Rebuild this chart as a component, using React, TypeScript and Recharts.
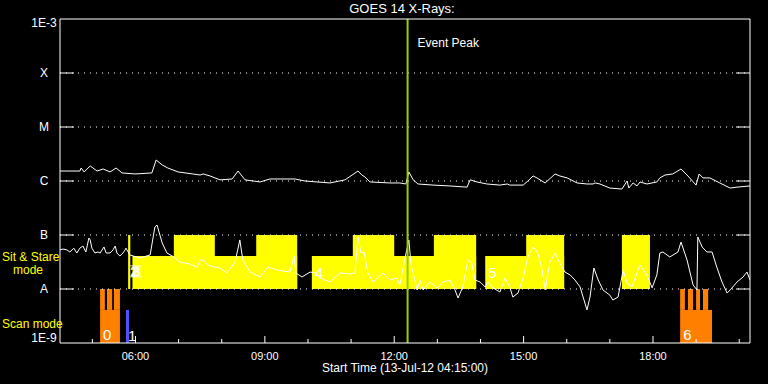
import React from 'react'
import { LineChart, Line, XAxis, YAxis, ReferenceArea, ReferenceLine } from 'recharts'

const FONT = '"Liberation Sans", Arial, sans-serif'

// time axis in decimal hours (UT), start 04:15
const timeDomain = [4.25, 20.25]
const hourTicks = [5, 6, 7, 8, 9, 10, 11, 12, 13, 14, 15, 16, 17, 18, 19, 20]
const labelledHours = [6, 9, 12, 15, 18]

// flux axis (W/m^2) with GOES class letters
const fluxTicks = [1e-9, 1e-8, 1e-7, 1e-6, 1e-5, 1e-4, 1e-3]
const fluxLabels = ['1E-9', 'A', 'B', 'C', 'M', 'X', '1E-3']
const gridLevels = [1e-8, 1e-7, 1e-6, 1e-5, 1e-4]

// 1-8 A channel [hour, flux]
const longChannel: [number, number][] = [
  [4.25, 1.53e-6], [4.48, 1.53e-6], [4.71, 1.53e-6], [4.74, 1.74e-6], [4.81, 1.47e-6],
  [4.95, 1.9e-6], [5.11, 1.53e-6], [5.25, 1.67e-6], [5.41, 1.47e-6], [5.55, 1.74e-6],
  [5.69, 1.41e-6], [5.99, 1.35e-6], [6.38, 1.41e-6], [6.48, 2.45e-6], [6.62, 1.98e-6],
  [6.75, 1.74e-6], [6.99, 1.47e-6], [7.33, 1.35e-6], [7.5, 1.29e-6], [7.57, 1.35e-6],
  [7.73, 1.24e-6], [7.96, 1.05e-6], [8.24, 1.09e-6], [8.38, 1.53e-6], [8.54, 1.05e-6],
  [8.89, 9.6e-7], [9.12, 1.09e-6], [9.7, 1.09e-6], [9.93, 1.0e-6], [10.51, 9.2e-7],
  [10.86, 1.05e-6], [11.16, 1.53e-6], [11.25, 1.29e-6], [11.32, 1.19e-6], [11.44, 9.6e-7],
  [11.9, 9.2e-7], [12.13, 9.2e-7], [12.27, 8.8e-7], [12.34, 1.47e-6], [12.44, 1.05e-6],
  [12.55, 8.8e-7], [12.9, 8.4e-7], [13.29, 8.1e-7], [13.69, 7.7e-7], [13.76, 1.05e-6],
  [13.92, 9.6e-7], [14.15, 8.8e-7], [14.45, 8.4e-7], [14.62, 8.8e-7], [14.68, 8.4e-7],
  [14.99, 8.4e-7], [15.1, 1.0e-6], [15.22, 1.24e-6], [15.31, 1.14e-6], [15.5, 9.2e-7],
  [15.73, 1.35e-6], [15.84, 1.24e-6], [16.01, 1.14e-6], [16.24, 9.2e-7], [16.47, 8.8e-7],
  [16.61, 8.8e-7], [16.66, 9.2e-7], [16.77, 8.8e-7], [17.0, 7.4e-7], [17.28, 7.1e-7],
  [17.4, 1.0e-6], [17.44, 7.4e-7], [17.54, 9.2e-7], [17.63, 8.1e-7], [17.7, 9.6e-7],
  [17.86, 8.8e-7], [18.09, 9.6e-7], [18.16, 1.14e-6], [18.28, 1.29e-6], [18.46, 1.35e-6],
  [18.65, 1.67e-6], [18.79, 1.29e-6], [19.0, 8.4e-7], [19.07, 1.35e-6], [19.16, 1.14e-6],
  [19.32, 1.14e-6], [19.55, 9.2e-7], [19.79, 7.4e-7], [19.95, 7.7e-7], [20.25, 8.1e-7],
]

// 0.5-4 A channel [hour, flux]
const shortChannel: [number, number][] = [
  [4.25, 5.3e-8], [4.32, 5.5e-8], [4.41, 5.3e-8], [4.48, 4.85e-8], [4.57, 5.7e-8],
  [4.64, 4.64e-8], [4.71, 5.7e-8], [4.78, 6.25e-8], [4.85, 4.85e-8], [4.92, 8.8e-8],
  [4.95, 8.1e-8], [4.99, 5.7e-8], [5.06, 4.64e-8], [5.13, 4.85e-8], [5.18, 4.64e-8],
  [5.27, 6.0e-8], [5.32, 4.64e-8], [5.41, 4.64e-8], [5.48, 5.3e-8], [5.53, 6.25e-8],
  [5.57, 4.64e-8], [5.64, 4.08e-8], [5.71, 4.64e-8], [5.76, 5.3e-8], [5.78, 5.7e-8],
  [5.87, 4.27e-8], [6.1, 3.75e-8], [6.34, 4.27e-8], [6.45, 1.41e-7], [6.5, 1.53e-7],
  [6.62, 7.1e-8], [6.73, 4.64e-8], [6.89, 3.92e-8], [7.03, 3.16e-8], [7.26, 2.9e-8],
  [7.43, 2.55e-8], [7.5, 3.44e-8], [7.57, 3.44e-8], [7.68, 2.78e-8], [7.84, 2.55e-8],
  [7.96, 2.45e-8], [8.12, 1.98e-8], [8.31, 3.16e-8], [8.42, 8.1e-8], [8.49, 3.44e-8],
  [8.66, 2.06e-8], [8.89, 1.67e-8], [9.07, 2.55e-8], [9.28, 2.25e-8], [9.58, 2.06e-8],
  [9.68, 4.08e-8], [9.72, 1.98e-8], [9.86, 1.67e-8], [10.05, 2.06e-8], [10.19, 1.98e-8],
  [10.28, 1.6e-8], [10.51, 1.35e-8], [10.74, 1.98e-8], [10.97, 1.9e-8], [11.09, 1.98e-8],
  [11.16, 9.2e-8], [11.23, 4.64e-8], [11.3, 4.85e-8], [11.39, 1.98e-8], [11.51, 1.35e-8],
  [11.74, 1.98e-8], [11.9, 1.47e-8], [12.06, 1.6e-8], [12.13, 1.19e-8], [12.27, 4.45e-8],
  [12.34, 8.1e-8], [12.39, 2.78e-8], [12.44, 1.98e-8], [12.53, 9.6e-9], [12.6, 1.47e-8],
  [12.67, 9.6e-9], [12.83, 1.35e-8], [12.99, 1.05e-8], [13.13, 1.35e-8], [13.29, 1.47e-8],
  [13.41, 9.6e-9], [13.48, 6.8e-9], [13.59, 1.09e-8], [13.71, 3.44e-8], [13.8, 3.03e-8],
  [13.87, 1.47e-8], [13.99, 1.35e-8], [14.11, 1.09e-8], [14.17, 1.35e-8], [14.29, 1.05e-8],
  [14.45, 8.8e-9], [14.57, 1.6e-8], [14.68, 1.09e-8], [14.75, 7.1e-9], [14.87, 8.4e-9],
  [14.99, 1.6e-8], [15.1, 3.92e-8], [15.22, 6.0e-8], [15.33, 4.64e-8], [15.43, 2.25e-8],
  [15.5, 9.6e-9], [15.61, 3.16e-8], [15.73, 4.64e-8], [15.84, 3.03e-8], [15.96, 2.06e-8],
  [16.08, 1.82e-8], [16.19, 1.47e-8], [16.31, 1.09e-8], [16.47, 4.1e-9], [16.54, 7.1e-9],
  [16.63, 2.45e-8], [16.73, 1.47e-8], [16.84, 9.6e-9], [17.0, 7.7e-9], [17.07, 6.25e-9],
  [17.19, 7.1e-9], [17.31, 2.25e-8], [17.4, 1.29e-8], [17.51, 1.09e-8], [17.63, 1.98e-8],
  [17.7, 2.78e-8], [17.86, 1.82e-8], [17.98, 1.05e-8], [18.09, 1.82e-8], [18.16, 4.64e-8],
  [18.23, 4.85e-8], [18.39, 3.92e-8], [18.58, 4.85e-8], [18.65, 7.4e-8], [18.79, 3.44e-8],
  [18.93, 1.19e-8], [19.02, 9.6e-9], [19.04, 9.2e-8], [19.14, 6.0e-8], [19.25, 4.85e-8],
  [19.37, 4.85e-8], [19.48, 2.55e-8], [19.6, 1.35e-8], [19.72, 8.4e-9], [19.79, 9.6e-9],
  [19.95, 1.35e-8], [20.09, 1.67e-8], [20.18, 2.06e-8], [20.25, 1.47e-8],
]

// sit & stare pointings [start, end] in hours
const sitStareTall: [number, number][] = [
  [5.83, 5.88], [6.89, 7.84], [8.8, 9.75], [11.04, 12.0], [12.92, 13.9], [15.06, 15.94], [17.28, 17.93],
]
const sitStareShort: [number, number, string][] = [
  [5.93, 9.75, '23'], [10.09, 13.9, '4'], [14.11, 15.94, '5'],
]

// scan mode blocks: base span, label, and teeth
const scanBase: [number, number, string][] = [
  [5.18, 5.64, '0'], [18.63, 19.37, '6'],
]
const scanTeeth: [number, number][] = [
  [5.18, 5.29], [5.34, 5.46], [5.5, 5.64],
  [18.63, 18.74], [18.81, 18.93], [19.0, 19.09], [19.16, 19.28],
]
const otherMode: [number, number, string] = [5.78, 5.85, '1']

const eventPeak = 12.31

// block heights
const TALL_TOP = 1e-7
const SHORT_TOP = 4.1e-8
const STARE_BOTTOM = 1e-8
const SCAN_BASE_TOP = 4.1e-9
const SCAN_BOTTOM = 1e-9

const longData = longChannel.map(([t, f]) => ({ t, f }))
const shortData = shortChannel.map(([t, f]) => ({ t, f }))

const fmtHour = (h: number) => `${String(h).padStart(2, '0')}:00`

function BottomTick({ x, y, payload }: any) {
  const major = labelledHours.includes(payload.value)
  return (
    <g>
      <line x1={x} x2={x} y1={y} y2={y - (major ? 7 : 4)} stroke="#fff" />
      {major && (
        <text x={x} y={y + 17} textAnchor="middle" fill="#fff" fontSize={11} fontFamily={FONT}>
          {fmtHour(payload.value)}
        </text>
      )}
    </g>
  )
}

function TopTick({ x, y, payload }: any) {
  const major = labelledHours.includes(payload.value)
  return <line x1={x} x2={x} y1={y} y2={y + (major ? 7 : 4)} stroke="#fff" />
}

const tickIndex = (v: number) =>
  fluxTicks.findIndex((t) => Math.abs(Math.log10(t) - Math.log10(v)) < 0.01)

function LeftTick({ x, y, payload }: any) {
  const idx = tickIndex(payload.value)
  const inner = idx > 0 && idx < fluxTicks.length - 1
  // end labels sit just inside the frame
  const dy = idx === 0 ? -1 : idx === fluxTicks.length - 1 ? 8 : 4
  return (
    <g>
      {inner && <line x1={x} x2={x + 14} y1={y} y2={y} stroke="#fff" />}
      <text x={x - 16} y={y + dy} textAnchor="middle" fill="#fff" fontSize={12} fontFamily={FONT}>
        {fluxLabels[idx]}
      </text>
    </g>
  )
}

function RightTick({ x, y, payload }: any) {
  const idx = tickIndex(payload.value)
  const inner = idx > 0 && idx < fluxTicks.length - 1
  return inner ? <line x1={x} x2={x - 14} y1={y} y2={y} stroke="#fff" /> : <g />
}

// pointing number drawn inside a sit & stare block; "23" is two numbers printed over each other
function PointingLabel({ viewBox, text }: any) {
  const { x, y } = viewBox
  if (text.length > 1) {
    return (
      <g>
        <rect x={x - 3} y={y + 10} width={12} height={11} fill="none" stroke="#fff" strokeWidth={0.8} />
        <text
          x={x - 2}
          y={y + 20}
          fontFamily={FONT}
          fontSize={13}
          letterSpacing={-4.5}
          fill="none"
          stroke="#fff"
          strokeWidth={0.8}
        >
          {text}
        </text>
      </g>
    )
  }
  return (
    <text x={x + 3} y={y + 22} fill="#fff" fontSize={15} fontFamily={FONT}>
      {text}
    </text>
  )
}

const digitLabel = (value: string, offset = 3) => ({
  value,
  position: 'insideBottomLeft',
  offset,
  fill: '#fff',
  fontSize: 15,
  fontFamily: FONT,
})

export default function App() {
  return (
    <div style={{ position: 'absolute', left: 0, top: 0, width: 768, height: 384, background: '#000', fontFamily: FONT }}>
      <LineChart width={768} height={384} margin={{ top: 0, right: 0, bottom: 0, left: 0 }}>
        <XAxis
          dataKey="t"
          type="number"
          domain={timeDomain}
          ticks={hourTicks}
          interval={0}
          allowDataOverflow
          height={41}
          axisLine={{ stroke: '#fff' }}
          tickLine={false}
          tickSize={0}
          tickMargin={0}
          tick={<BottomTick />}
          label={{ value: 'Start Time (13-Jul-12 04:15:00)', position: 'insideBottom', offset: 12, fill: '#fff', fontSize: 12, fontFamily: FONT }}
        />
        <XAxis
          xAxisId="top"
          orientation="top"
          type="number"
          domain={timeDomain}
          ticks={hourTicks}
          interval={0}
          allowDataOverflow
          height={19}
          axisLine={{ stroke: '#fff' }}
          tickLine={false}
          tickSize={0}
          tickMargin={0}
          tick={<TopTick />}
        />
        <YAxis
          type="number"
          scale="log"
          domain={[1e-9, 1e-3]}
          ticks={fluxTicks}
          interval={0}
          allowDataOverflow
          width={60}
          axisLine={{ stroke: '#fff' }}
          tickLine={false}
          tickSize={0}
          tickMargin={0}
          tick={<LeftTick />}
        />
        <YAxis
          yAxisId="r"
          orientation="right"
          type="number"
          scale="log"
          domain={[1e-9, 1e-3]}
          ticks={fluxTicks}
          interval={0}
          allowDataOverflow
          width={18}
          axisLine={{ stroke: '#fff' }}
          tickLine={false}
          tickSize={0}
          tickMargin={0}
          tick={<RightTick />}
        />

        {gridLevels.map((lv) => (
          <ReferenceLine key={lv} y={lv} stroke="#fff" strokeDasharray="1 5" />
        ))}

        {sitStareShort.map(([a, b, lab]) => (
          <ReferenceArea
            key={`s${a}`}
            x1={a}
            x2={b}
            y1={STARE_BOTTOM}
            y2={SHORT_TOP}
            fill="#ffff00"
            fillOpacity={1}
            stroke="none"
            label={(p: any) => <PointingLabel viewBox={p.viewBox} text={lab} />}
          />
        ))}
        {sitStareTall.map(([a, b]) => (
          <ReferenceArea key={`t${a}`} x1={a} x2={b} y1={STARE_BOTTOM} y2={TALL_TOP} fill="#ffff00" fillOpacity={1} stroke="none" />
        ))}

        {scanBase.map(([a, b, lab]) => (
          <ReferenceArea
            key={`b${a}`}
            x1={a}
            x2={b}
            y1={SCAN_BOTTOM}
            y2={SCAN_BASE_TOP}
            fill="#ff8000"
            fillOpacity={1}
            stroke="none"
            label={digitLabel(lab, 3)}
          />
        ))}
        {scanTeeth.map(([a, b]) => (
          <ReferenceArea key={`c${a}`} x1={a} x2={b} y1={SCAN_BASE_TOP} y2={STARE_BOTTOM} fill="#ff8000" fillOpacity={1} stroke="none" />
        ))}
        <ReferenceArea
          x1={otherMode[0]}
          x2={otherMode[1]}
          y1={SCAN_BOTTOM}
          y2={SCAN_BASE_TOP}
          fill="#5050ff"
          fillOpacity={1}
          stroke="none"
          label={digitLabel(otherMode[2], 2)}
        />

        <Line data={shortData} dataKey="f" type="linear" stroke="#fff" strokeWidth={1} dot={false} isAnimationActive={false} />
        <Line data={longData} dataKey="f" type="linear" stroke="#fff" strokeWidth={1} dot={false} isAnimationActive={false} />

        <ReferenceLine
          x={eventPeak}
          stroke="#9acd00"
          strokeWidth={2}
          label={(p: any) => (
            <text x={p.viewBox.x + 10} y={p.viewBox.y + 28} fill="#fff" fontSize={12} fontFamily={FONT}>
              Event Peak
            </text>
          )}
        />
      </LineChart>

      <div style={{ position: 'absolute', left: 302, top: 1, width: 200, textAlign: 'center', color: '#fff', fontSize: 13, lineHeight: '16px' }}>
        GOES 14 X-Rays:
      </div>
      <div style={{ position: 'absolute', left: 2, top: 251, color: '#ffff00', fontSize: 12, lineHeight: '12px' }}>Sit &amp; Stare</div>
      <div style={{ position: 'absolute', left: 13, top: 264, color: '#ffff00', fontSize: 12, lineHeight: '12px' }}>mode</div>
      <div style={{ position: 'absolute', left: 2, top: 318, color: '#ffff00', fontSize: 12, lineHeight: '12px' }}>Scan mode</div>
    </div>
  )
}
